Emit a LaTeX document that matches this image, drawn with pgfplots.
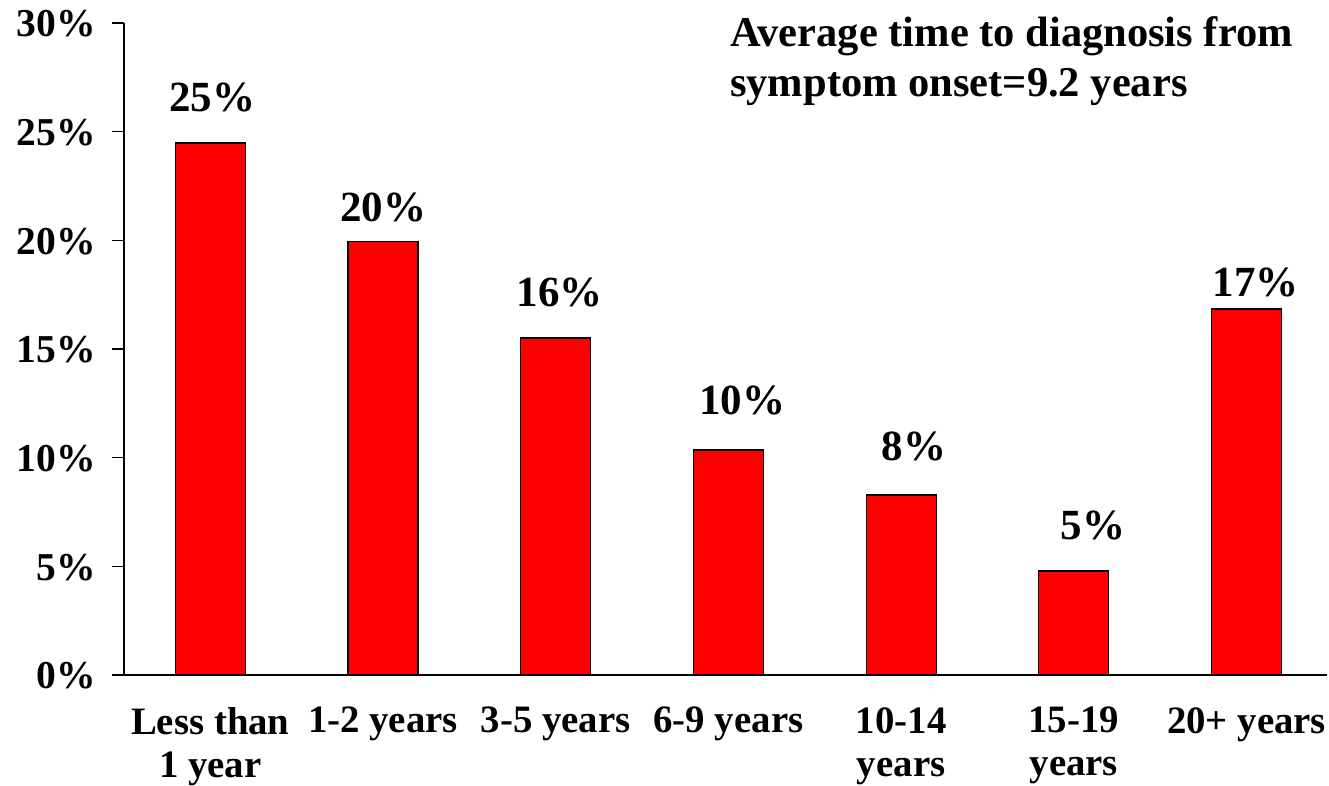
\documentclass[border=0pt]{standalone}
\usepackage{pgfplots}
\usepackage{pgfplotstable}
\pgfplotsset{compat=1.18}
\usepackage{fontspec}
\setmainfont{Liberation Serif}
\newcommand{\titlef}{\fontsize{42.5}{50}\selectfont\bfseries}
\newcommand{\tickf}{\fontsize{39.5}{43}\selectfont\bfseries}
\newcommand{\xtickf}{\fontsize{38.8}{43}\selectfont\bfseries}
\newcommand{\labf}{\fontsize{43}{43}\selectfont\bfseries}
\begin{document}
\begin{tikzpicture}
\pgfplotstableread{
x y lab dx dy
0 24.48 25 2 31
1 19.93 20 0 20
2 15.51 16 4 31
3 10.35 10 14 36
4 8.28 8 13 35
5 4.79 5 19 31
6 16.84 17 9 13
}\datatable
\begin{axis}[
  scale only axis, width=1203pt, height=652pt,
  xmin=-0.5, xmax=6.466, ymin=0, ymax=30,
  clip=false,
  axis x line=bottom, axis y line=left,
  axis line style={-, line width=1.5pt, black},
  ytick={0,5,...,30},
  yticklabels={0\%,5\%,10\%,15\%,20\%,25\%,30\%},
  tick align=outside, major tick length=12pt,
  ytick style={line width=1.5pt, black},
  xtick={0,...,6}, xtick style={draw=none},
  xticklabels={{Less than\\1 year},{1-2 years},{3-5 years},{6-9 years},{10-14\\years},{15-19\\years},{20+ years}},
  xticklabel style={align=center, font=\xtickf, anchor=north, inner sep=0pt, yshift=-20pt},
  yticklabel style={font=\tickf, anchor=east, inner sep=0pt, xshift=-16pt, yshift=-1pt},
  ybar, bar width=0.405,
  nodes near coords={\pgfplotspointmeta\%},
  point meta=explicit symbolic,
  visualization depends on={\thisrow{dx} \as \labdx},
  visualization depends on={\thisrow{dy} \as \labdy},
  every node near coord/.append style={font=\labf, anchor=base, inner sep=0pt, xshift=\labdx, yshift=\labdy},
]
\addplot[ybar, fill=red, draw=black, line width=1.2pt] table[x=x, y=y, meta=lab] {\datatable};
\node[anchor=base west, font=\titlef, inner sep=0pt] at (axis cs:3.009,28.94) {Average time to diagnosis from};
\node[anchor=base west, font=\titlef, inner sep=0pt] at (axis cs:3.009,26.60) {symptom onset=9.2 years};
\end{axis}
\pgfresetboundingbox
\path[use as bounding box] (-124pt,-110pt) rectangle (1205pt,675pt);
\end{tikzpicture}
\end{document}
